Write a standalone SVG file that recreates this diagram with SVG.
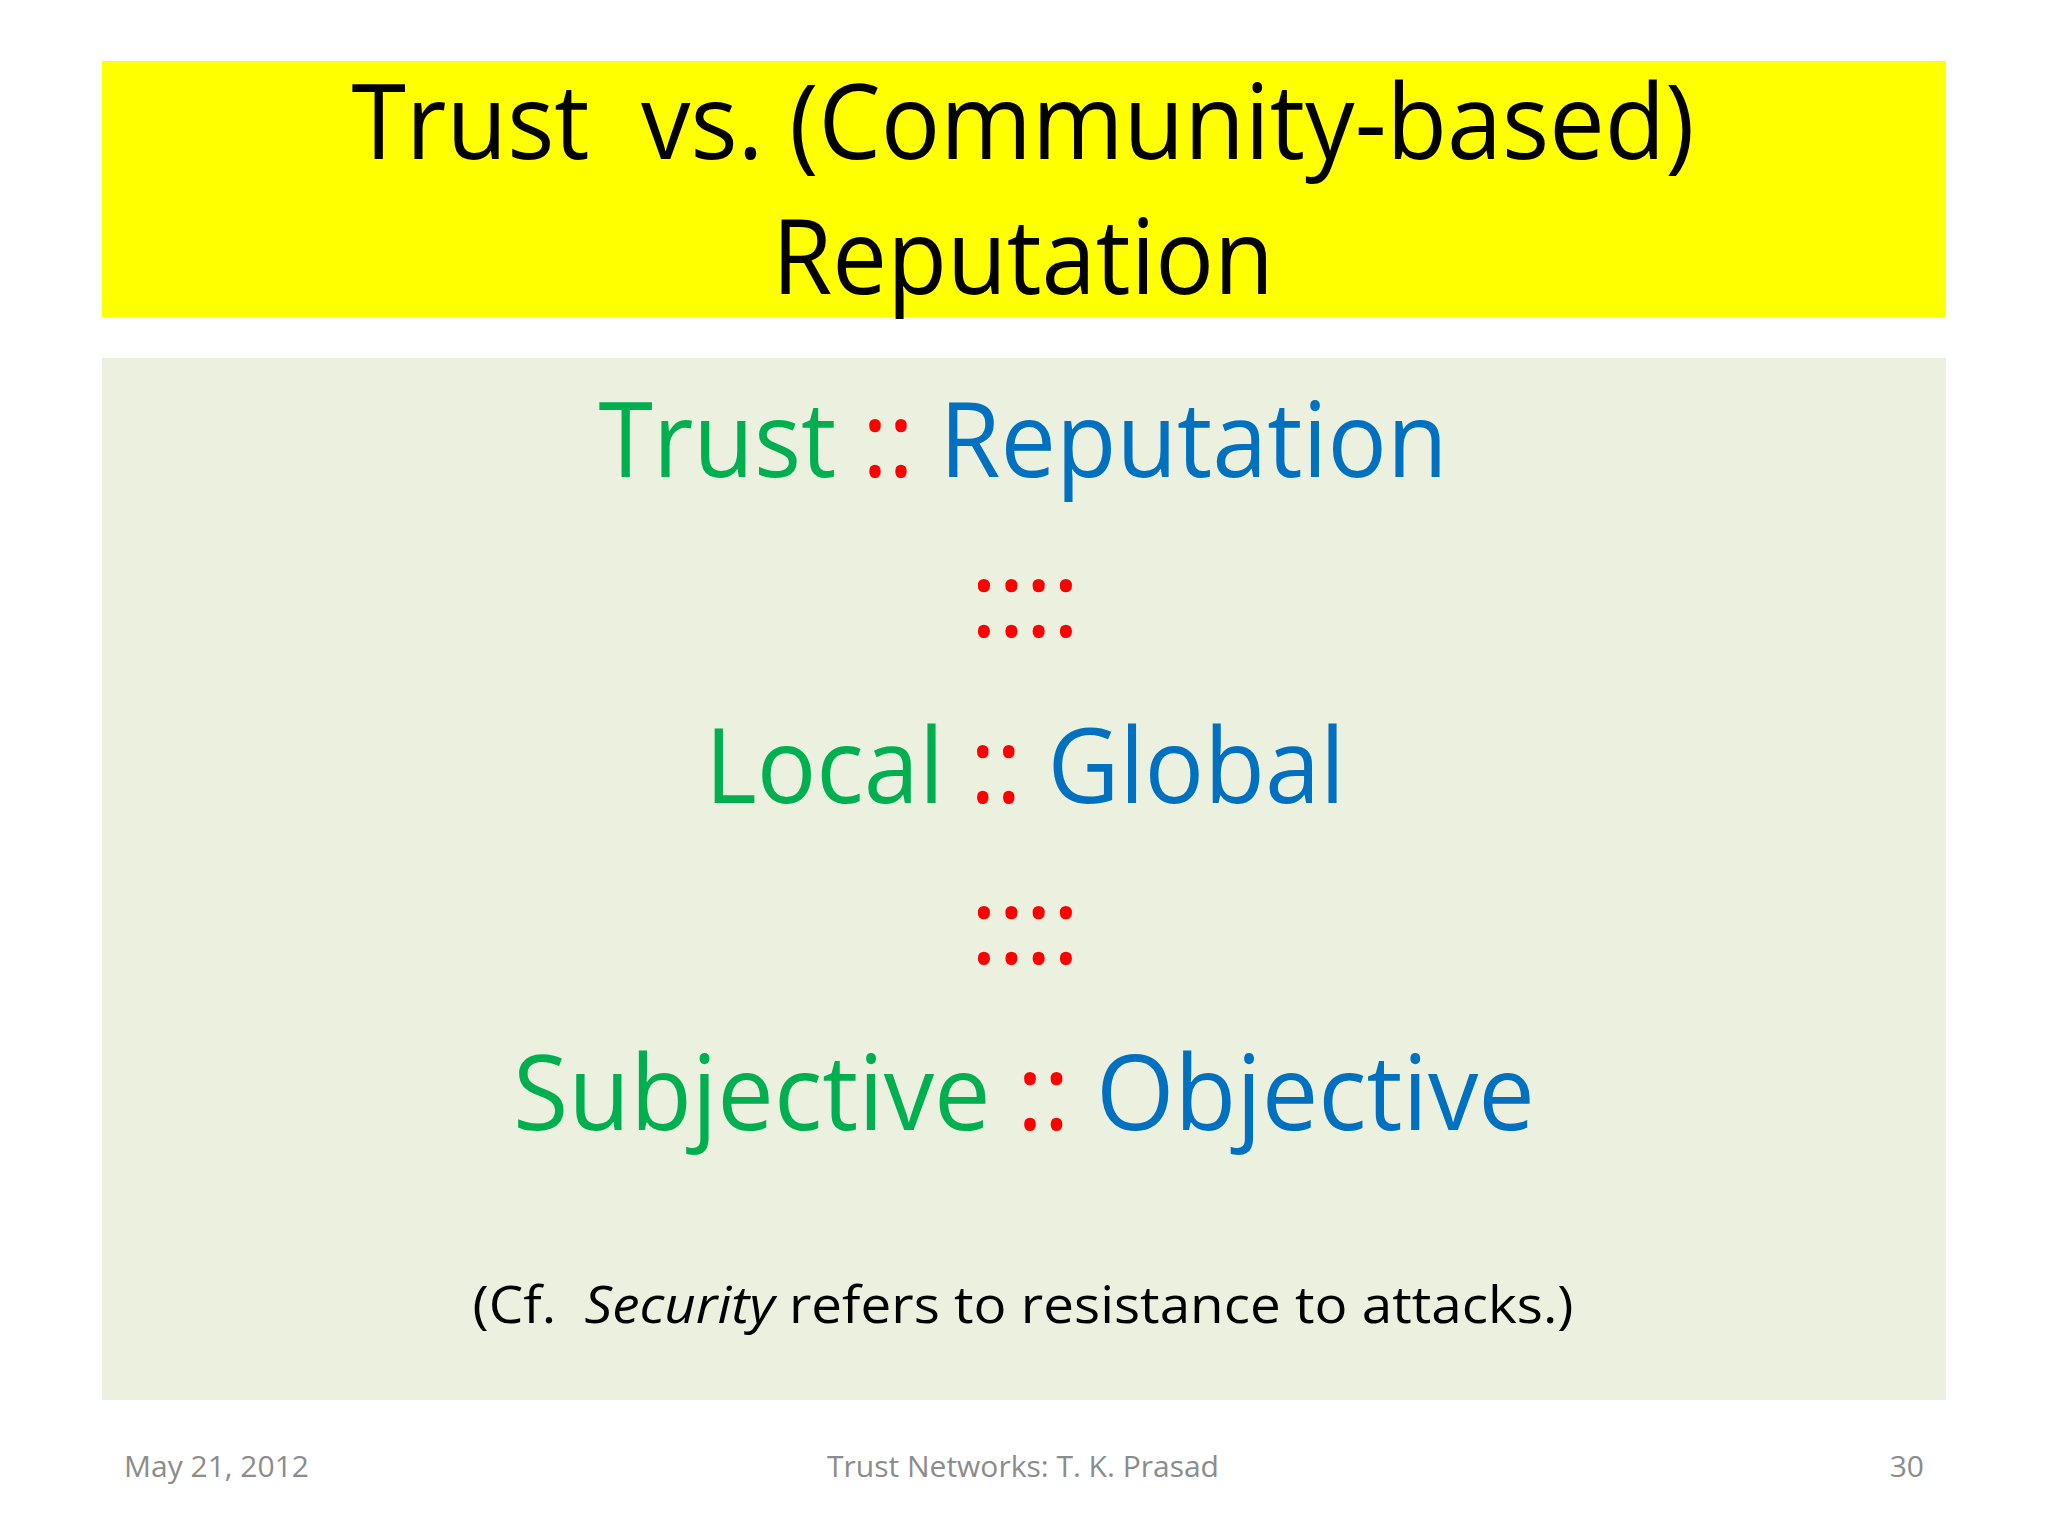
<svg xmlns="http://www.w3.org/2000/svg" width="2048" height="1536" viewBox="0 0 2048 1536">
<style>
text{font-family:"Open Sans","Noto Sans",sans-serif;text-anchor:middle;white-space:pre}
.t{font-size:104px;fill:#000}
.b{font-size:104px}
.g{fill:#00B050}.u{fill:#0070C0}.r{fill:#FF0000}
.f{font-size:30px;fill:#8c8c8c}
</style>
<rect width="2048" height="1536" fill="#fff"/>
<g id="title">
<rect x="102" y="61" width="1844" height="256" fill="#FFFF00"/>
<text class="t" x="1023" y="159" textLength="1343" lengthAdjust="spacingAndGlyphs">Trust  vs. (Community-based)</text>
<text class="t" x="1023" y="294" textLength="502" lengthAdjust="spacingAndGlyphs">Reputation</text>
</g>
<g id="body">
<rect x="102" y="358" width="1844" height="1042" fill="#EBF1DE"/>
<text class="b" x="1023" y="477" textLength="849" lengthAdjust="spacingAndGlyphs"><tspan class="g">Trust </tspan><tspan class="r">:: </tspan><tspan class="u">Reputation</tspan></text>
<text class="b r" x="1025" y="637">::::</text>
<text class="b" x="1025" y="803" textLength="640" lengthAdjust="spacingAndGlyphs"><tspan class="g">Local </tspan><tspan class="r">:: </tspan><tspan class="u">Global</tspan></text>
<text class="b r" x="1025" y="964">::::</text>
<text class="b" x="1024" y="1130" textLength="1022" lengthAdjust="spacingAndGlyphs"><tspan class="g">Subjective </tspan><tspan class="r">:: </tspan><tspan class="u">Objective</tspan></text>
<text x="1023" y="1323" font-size="52" fill="#000" textLength="1101" lengthAdjust="spacingAndGlyphs">(Cf.  <tspan font-style="italic">Security</tspan> refers to resistance to attacks.)</text>
</g>
<g id="footer">
<text class="f" x="124" y="1477" style="text-anchor:start">May 21, 2012</text>
<text class="f" x="1023" y="1477">Trust Networks: T. K. Prasad</text>
<text class="f" x="1924" y="1477" style="text-anchor:end">30</text>
</g>
</svg>
